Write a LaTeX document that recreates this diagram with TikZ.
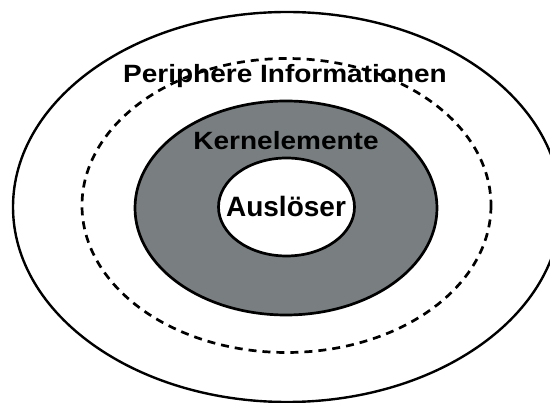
\documentclass[tikz,border=0pt]{standalone}
\usepackage{fontspec}
\setmainfont{Liberation Sans}
\definecolor{kerngrau}{RGB}{121,127,129}
\begin{document}
\begin{tikzpicture}[x=1pt,y=-1pt,
  ring/.style={line width=2.4pt,draw=black},
  grenze/.style={line width=2.7pt,draw=black,dash pattern=on 8pt off 6pt},
  label/.style={anchor=base,inner sep=0pt,font=\bfseries\fontsize{28}{30}\selectfont}]
  \useasboundingbox[fill=white] (0,0) rectangle (550,403);
  \begin{scope}
    \clip (0,0) rectangle (550,403);
    % outer ring
    \draw[ring] (287,207) ellipse [x radius=274, y radius=195];
  \end{scope}
  % dashed boundary of the peripheral zone
  \draw[grenze] (286.5,205.5) ellipse [x radius=204.5, y radius=147];
  % core elements
  \draw[ring,line width=2.7pt,fill=kerngrau] (286,208) ellipse [x radius=151, y radius=107];
  % trigger
  \draw[ring,line width=2.7pt,fill=white] (286.5,207) ellipse [x radius=68, y radius=49];
  % labels
  \node[label] (peri) at (285,83) {\scalebox{1.12}[1]{\fontsize{25}{27}\selectfont Periphere Informationen}};
  \node[label] (kern) at (286,150) {\scalebox{1.12}[1]{\fontsize{25}{27}\selectfont Kernelemente}};
  \node[label] (ausl) at (286,217) {Auslöser};
\end{tikzpicture}
\end{document}
